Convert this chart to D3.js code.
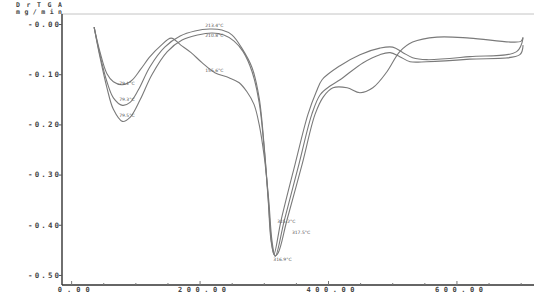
<!DOCTYPE html>
<html>
<head>
<meta charset="utf-8">
<script src="https://cdn.jsdelivr.net/npm/d3@7/dist/d3.min.js"></script>
<style>
  html, body { margin: 0; padding: 0; background: #fff; }
  svg { display: block; }
</style>
</head>
<body>
<script>
// ---- data ----
const tempA = [35,44,55,65,79,93,107,122,138,155,170,186,203,223,245,261,273,284,292,300,307,312,317,322,335,359,379,392,407,429,449,469,491,511,531,569,620,687,700,703];
const dtgA  = [-0.006,-0.055,-0.099,-0.115,-0.121,-0.113,-0.091,-0.065,-0.044,-0.028,-0.042,-0.057,-0.077,-0.097,-0.107,-0.117,-0.135,-0.160,-0.200,-0.265,-0.352,-0.432,-0.462,-0.455,-0.392,-0.279,-0.180,-0.145,-0.127,-0.127,-0.137,-0.127,-0.095,-0.055,-0.036,-0.026,-0.028,-0.036,-0.034,-0.026];

const tempB = [35,44,55,65,79,91,104,122,145,169,192,215,234,250,265,281,292,300,306,311,315,326,348,368,381,390,418,449,480,500,516,531,553,620,693,703];
const dtgB  = [-0.006,-0.061,-0.115,-0.147,-0.162,-0.156,-0.131,-0.085,-0.046,-0.024,-0.014,-0.010,-0.012,-0.022,-0.048,-0.087,-0.147,-0.246,-0.345,-0.432,-0.459,-0.392,-0.279,-0.180,-0.135,-0.111,-0.083,-0.061,-0.048,-0.046,-0.057,-0.067,-0.071,-0.065,-0.055,-0.028];

const tempC = [35,44,55,65,79,91,107,125,149,172,196,219,237,253,267,281,292,300,306,311,317,331,354,374,387,403,418,454,480,496,511,527,553,620,698,703];
const dtgC  = [-0.006,-0.065,-0.127,-0.170,-0.194,-0.186,-0.150,-0.101,-0.055,-0.032,-0.022,-0.018,-0.022,-0.034,-0.055,-0.095,-0.156,-0.250,-0.349,-0.436,-0.463,-0.392,-0.279,-0.180,-0.141,-0.123,-0.111,-0.077,-0.061,-0.057,-0.065,-0.075,-0.075,-0.070,-0.061,-0.042];

const xTicks = [0, 200, 400, 600];
const xMinorTicks = [0,50,100,150,200,250,300,350,400,450,500,550,600,650,700];
const yTicks = [0, -0.1, -0.2, -0.3, -0.4, -0.5];
const yTitle = ["DrTGA", "mg/min"];

const noteTemps = [74, 74, 74, 208, 208, 208, 320, 343, 314];
const noteValues = [-0.117, -0.149, -0.182, -0.002, -0.022, -0.091, -0.392, -0.414, -0.468];
const noteTexts = ["79.1°C", "79.3°C", "79.5°C", "213.4°C", "210.8°C", "155.6°C", "315.2°C", "317.5°C", "316.9°C"];

// ---- drawing ----
const W = 534, H = 294;
const svg = d3.select("body").append("svg").attr("width", W).attr("height", H);

const x = d3.scaleLinear().domain([-15, 720]).range([62, 534]);
const y = d3.scaleLinear().domain([0.02, -0.52]).range([14, 285]);

// frame
svg.append("line").attr("x1", 62).attr("x2", 534).attr("y1", 14).attr("y2", 14)
  .attr("stroke", "#c4c4c4").attr("stroke-width", 1);

// series
const series = [[tempA, dtgA], [tempB, dtgB], [tempC, dtgC]];
const line = d3.line().x(d => x(d[0])).y(d => y(d[1])).curve(d3.curveCatmullRom.alpha(0.5));
series.forEach(([t, v]) => {
  svg.append("path")
    .datum(t.map((tt, i) => [tt, v[i]]))
    .attr("d", line)
    .attr("fill", "none")
    .attr("stroke", "#7a7a7a")
    .attr("stroke-width", 1.1);
});

// y axis
const yAxis = d3.axisLeft(y).tickValues(yTicks).tickSize(3)
  .tickFormat(d => "-" + Math.abs(d).toFixed(2));
const gy = svg.append("g").attr("transform", "translate(62,0)").call(yAxis);
gy.select(".domain").attr("stroke", "#333").attr("stroke-width", 1.4).attr("d", "M0,14V285");
gy.selectAll(".tick line").attr("stroke", "#555");
gy.selectAll(".tick text")
  .attr("x", -3)
  .attr("font-family", "DejaVu Sans Mono")
  .attr("font-size", 7.5)
  .attr("font-weight", "bold")
  .attr("fill", "#444")
  .attr("textLength", 31)
  .attr("lengthAdjust", "spacing");

// x axis
const gx = svg.append("g").attr("transform", "translate(0,285)");
gx.append("line").attr("x1", 62).attr("x2", 534).attr("y1", 0).attr("y2", 0)
  .attr("stroke", "#333").attr("stroke-width", 1.4);
gx.selectAll("line.minor").data(xMinorTicks).join("line")
  .attr("class", "minor")
  .attr("x1", d => x(d)).attr("x2", d => x(d))
  .attr("y1", 0).attr("y2", d => xTicks.includes(d) ? -4 : -2)
  .attr("stroke", "#777");
gx.selectAll("text").data(xTicks).join("text")
  .attr("x", d => x(d) + 2)
  .attr("y", 7)
  .attr("text-anchor", "middle")
  .attr("font-family", "DejaVu Sans Mono")
  .attr("font-size", 7)
  .attr("font-weight", "bold")
  .attr("fill", "#444")
  .attr("textLength", d => (d3.format(".2f")(d).length * 8))
  .attr("lengthAdjust", "spacing")
  .text(d => d3.format(".2f")(d));

// y title
svg.selectAll("text.ytitle").data(yTitle).join("text")
  .attr("class", "ytitle")
  .attr("x", 62).attr("y", (d, i) => 7 + i * 7)
  .attr("text-anchor", "end")
  .attr("font-family", "DejaVu Sans Mono")
  .attr("font-size", 6.5)
  .attr("font-weight", "bold")
  .attr("fill", "#444")
  .attr("textLength", 46)
  .attr("lengthAdjust", "spacing")
  .text(d => d);

// peak annotations
svg.selectAll("text.note").data(noteTexts).join("text")
  .attr("class", "note")
  .attr("x", (d, i) => x(noteTemps[i]))
  .attr("y", (d, i) => y(noteValues[i]) + 2)
  .attr("font-family", "DejaVu Sans")
  .attr("font-size", 4.5)
  .attr("fill", "#555")
  .text(d => d);
</script>
</body>
</html>
